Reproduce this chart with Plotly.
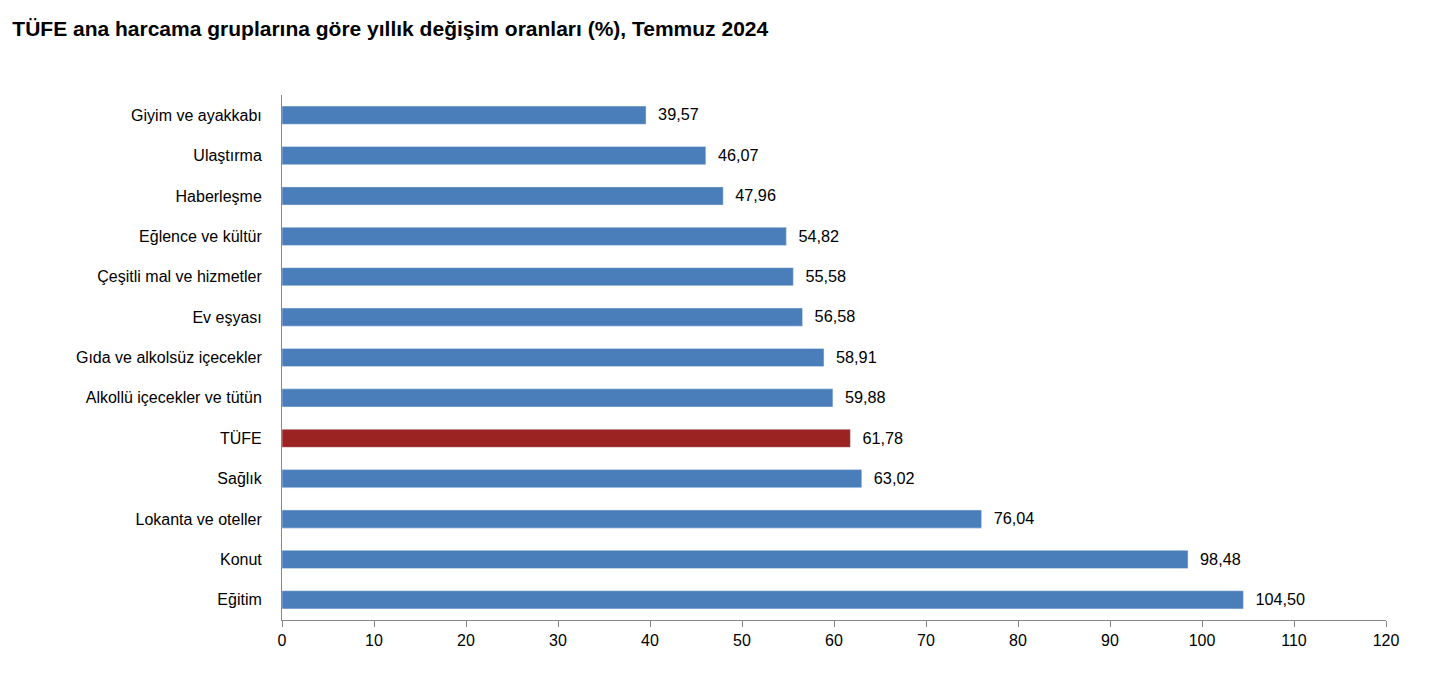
import plotly.graph_objects as go

categories = ["Giyim ve ayakkabı", "Ulaştırma", "Haberleşme", "Eğlence ve kültür",
              "Çeşitli mal ve hizmetler", "Ev eşyası", "Gıda ve alkolsüz içecekler",
              "Alkollü içecekler ve tütün", "TÜFE", "Sağlık", "Lokanta ve oteller",
              "Konut", "Eğitim"]
values = [39.57, 46.07, 47.96, 54.82, 55.58, 56.58, 58.91, 59.88, 61.78, 63.02, 76.04, 98.48, 104.50]
labels = ["  " + f"{v:.2f}".replace(".", ",") for v in values]
colors = ["#9B2423" if c == "TÜFE" else "#4A7EBB" for c in categories]

fig = go.Figure(go.Bar(
    x=values, y=categories, orientation="h", marker_color=colors,
    text=labels, textposition="outside", cliponaxis=False,
    textfont=dict(size=17, color="#000"), width=0.45))

fig.update_layout(
    width=1446, height=680, plot_bgcolor="white", paper_bgcolor="white",
    font=dict(family="Liberation Sans, Arial", size=16, color="#000"),
    margin=dict(l=274, r=68, t=87, b=68),
    title=dict(text="<b>TÜFE ana harcama gruplarına göre yıllık değişim oranları (%), Temmuz 2024</b>",
               x=0.003, xanchor="left", y=0.97, yanchor="middle", font=dict(size=21)),
    showlegend=False)
fig.update_xaxes(range=[0, 120], dtick=10, showgrid=False, showline=True, linecolor="#888",
                 ticks="outside", ticklen=6, tickcolor="#888", zeroline=False)
fig.update_yaxes(autorange="reversed", showgrid=False, showline=True, linecolor="#888",
                 ticks="", ticklabelstandoff=16)
fig.write_html("out.html")
